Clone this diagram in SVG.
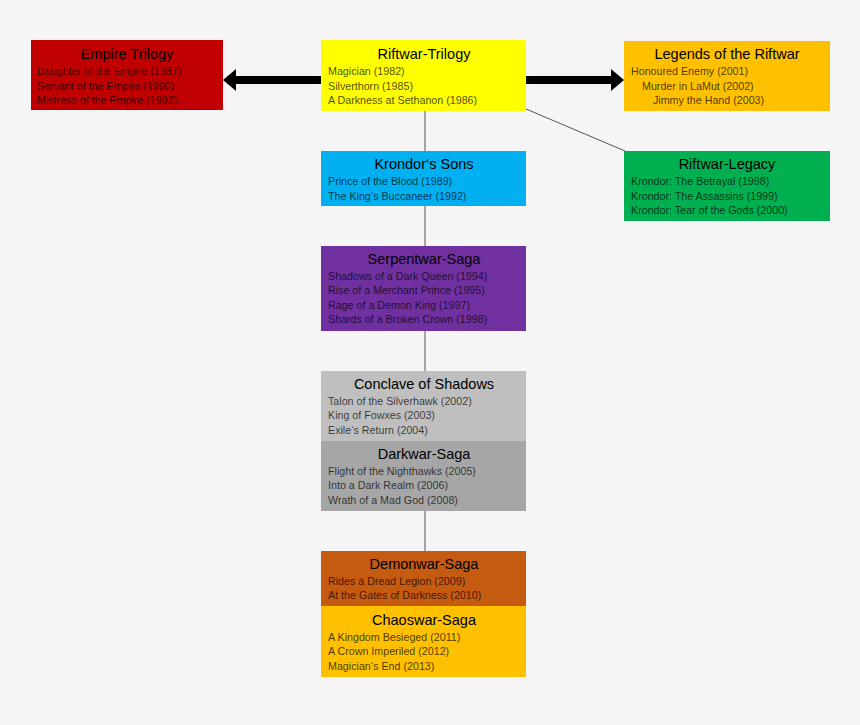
<svg xmlns="http://www.w3.org/2000/svg" width="860" height="725" viewBox="0 0 860 725">
<style>
.t{font-family:"Liberation Sans",Arial,sans-serif;font-size:14.5px;fill:#000;text-anchor:middle}
.b{font-family:"Liberation Sans",Arial,sans-serif;font-size:10.7px;fill:#000;fill-opacity:0.72}
.ln{stroke:#555;stroke-width:1;fill:none}
</style>
<rect width="860" height="725" fill="#f5f5f5"/>
<g id="connectors">
<line class="ln" x1="425" y1="111" x2="425" y2="151"/>
<line class="ln" x1="425" y1="206" x2="425" y2="246"/>
<line class="ln" x1="425" y1="331" x2="425" y2="371"/>
<line class="ln" x1="425" y1="511" x2="425" y2="551"/>
<line class="ln" x1="526" y1="109" x2="625" y2="151"/>
<polygon points="321,76 236,76 236,69 223,80 236,91 236,84 321,84" fill="#000"/>
<polygon points="526,76 611,76 611,69 624,80 611,91 611,84 526,84" fill="#000"/>
</g>
<g id="empire">
<rect x="31" y="40" width="192" height="70" fill="#c00000"/>
<text class="t" x="127" y="59">Empire Trilogy</text>
<text class="b" x="37" y="75">Daughter of the Empire (1987)</text>
<text class="b" x="37" y="89.5">Servant of the Empire (1990)</text>
<text class="b" x="37" y="104">Mistress of the Empire (1992)</text>
</g>
<g id="riftwar">
<rect x="321" y="40" width="205" height="71" fill="#ffff00"/>
<text class="t" x="424" y="59">Riftwar-Trilogy</text>
<text class="b" x="328" y="75">Magician (1982)</text>
<text class="b" x="328" y="89.5">Silverthorn (1985)</text>
<text class="b" x="328" y="104">A Darkness at Sethanon (1986)</text>
</g>
<g id="legends">
<rect x="624" y="41" width="206" height="70" fill="#ffc000"/>
<text class="t" x="727" y="59">Legends of the Riftwar</text>
<text class="b" x="631" y="75">Honoured Enemy (2001)</text>
<text class="b" x="642" y="89.5">Murder in LaMut (2002)</text>
<text class="b" x="653" y="104">Jimmy the Hand (2003)</text>
</g>
<g id="krondor">
<rect x="321" y="151" width="205" height="55" fill="#00b0f0"/>
<text class="t" x="424" y="169">Krondor‘s Sons</text>
<text class="b" x="328" y="185">Prince of the Blood (1989)</text>
<text class="b" x="328" y="199.5">The King‘s Buccaneer (1992)</text>
</g>
<g id="legacy">
<rect x="624" y="151" width="206" height="70" fill="#00b050"/>
<text class="t" x="727" y="169">Riftwar-Legacy</text>
<text class="b" x="631" y="185">Krondor: The Betrayal (1998)</text>
<text class="b" x="631" y="199.5">Krondor: The Assassins (1999)</text>
<text class="b" x="631" y="214">Krondor: Tear of the Gods (2000)</text>
</g>
<g id="serpentwar">
<rect x="321" y="246" width="205" height="85" fill="#7030a0"/>
<text class="t" x="424" y="264">Serpentwar-Saga</text>
<text class="b" x="328" y="279.5">Shadows of a Dark Queen (1994)</text>
<text class="b" x="328" y="294">Rise of a Merchant Prince (1995)</text>
<text class="b" x="328" y="308.5">Rage of a Demon King (1997)</text>
<text class="b" x="328" y="323">Shards of a Broken Crown (1998)</text>
</g>
<g id="conclave">
<rect x="321" y="371" width="205" height="70" fill="#bfbfbf"/>
<text class="t" x="424" y="389">Conclave of Shadows</text>
<text class="b" x="328" y="404.5">Talon of the Silverhawk (2002)</text>
<text class="b" x="328" y="419">King of Fowxes (2003)</text>
<text class="b" x="328" y="433.5">Exile‘s Return (2004)</text>
</g>
<g id="darkwar">
<rect x="321" y="441" width="205" height="70" fill="#a6a6a6"/>
<text class="t" x="424" y="459">Darkwar-Saga</text>
<text class="b" x="328" y="474.5">Flight of the Nighthawks (2005)</text>
<text class="b" x="328" y="489">Into a Dark Realm (2006)</text>
<text class="b" x="328" y="503.5">Wrath of a Mad God (2008)</text>
</g>
<g id="demonwar">
<rect x="321" y="551" width="205" height="55" fill="#c55a11"/>
<text class="t" x="424" y="569">Demonwar-Saga</text>
<text class="b" x="328" y="584.5">Rides a Dread Legion (2009)</text>
<text class="b" x="328" y="599">At the Gates of Darkness (2010)</text>
</g>
<g id="chaoswar">
<rect x="321" y="606" width="205" height="71" fill="#ffc000"/>
<text class="t" x="424" y="625">Chaoswar-Saga</text>
<text class="b" x="328" y="640.5">A Kingdom Besieged (2011)</text>
<text class="b" x="328" y="655">A Crown Imperiled (2012)</text>
<text class="b" x="328" y="669.5">Magician‘s End (2013)</text>
</g>
</svg>
